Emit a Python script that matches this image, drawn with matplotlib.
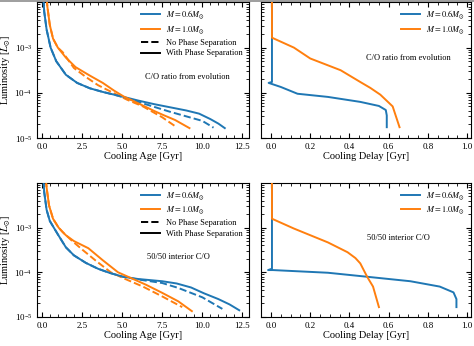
import numpy as np
import matplotlib
matplotlib.use("Agg")
import matplotlib.pyplot as plt
from matplotlib.ticker import AutoMinorLocator, LogLocator, NullFormatter
from matplotlib.lines import Line2D
from matplotlib.patches import Rectangle

plt.rcParams['font.family'] = ['Liberation Serif', 'DejaVu Serif']
plt.rcParams['mathtext.fontset'] = 'stix'

BLUE = '#1f77b4'
ORANGE = '#ff7f0e'

# ---------------- Top row: C/O ratio from evolution ----------------
tl_blue_ps_age = [0.07, 0.15, 0.3, 0.55, 0.9, 1.5, 2.2, 3.0, 3.8, 4.5, 5.1, 6.0, 7.0, 8.0, 9.0, 9.8, 10.5, 11.0, 11.4]
tl_blue_ps_logL = [-1.7, -2.2, -2.6, -3.0, -3.3, -3.6, -3.78, -3.9, -3.98, -4.04, -4.09, -4.17, -4.25, -4.32, -4.39, -4.46, -4.58, -4.68, -4.78]
tl_blue_nops_age = [0.07, 0.15, 0.3, 0.55, 0.9, 1.5, 2.2, 3.0, 3.8, 4.5, 5.1, 6.0, 7.0, 8.0, 9.0, 10.0, 10.7]
tl_blue_nops_logL = [-1.7, -2.2, -2.6, -3.0, -3.3, -3.6, -3.78, -3.9, -3.98, -4.04, -4.1, -4.2, -4.31, -4.42, -4.52, -4.62, -4.77]

tl_orange_ps_age = [0.25, 0.35, 0.5, 0.7, 1.0, 1.5, 2.1, 3.0, 3.8, 4.5, 5.1, 6.0, 7.0, 7.5, 8.3, 9.2]
tl_orange_ps_logL = [-1.7, -2.1, -2.5, -2.8, -3.0, -3.22, -3.43, -3.62, -3.78, -3.95, -4.08, -4.23, -4.4, -4.48, -4.6, -4.78]
tl_orange_nops_age = [0.25, 0.35, 0.5, 0.7, 1.0, 1.3, 2.0, 2.75, 3.5, 4.45, 5.3, 6.3, 7.5, 8.4]
tl_orange_nops_logL = [-1.7, -2.1, -2.5, -2.8, -3.0, -3.1, -3.45, -3.65, -3.83, -4.0, -4.15, -4.3, -4.54, -4.76]

tr_blue_delay = [0.005, 0.005, -0.012, 0.05, 0.135, 0.29, 0.455, 0.55, 0.585, 0.59, 0.59]
tr_blue_logL = [-1.7, -3.76, -3.78, -3.87, -4.02, -4.09, -4.2, -4.29, -4.38, -4.5, -4.76]
tr_orange_delay = [0.005, 0.005, 0.117, 0.2, 0.355, 0.455, 0.506, 0.557, 0.62, 0.655]
tr_orange_logL = [-1.7, -2.78, -3.0, -3.24, -3.5, -3.76, -3.89, -4.04, -4.3, -4.76]

# ---------------- Bottom row: 50/50 interior C/O ----------------
bl_blue_ps_age = [0.07, 0.15, 0.3, 0.5, 0.75, 1.0, 1.5, 2.0, 2.75, 3.5, 4.2, 5.06, 6.0, 7.5, 8.4, 9.3, 10.1, 11.0, 11.7, 12.3]
bl_blue_ps_logL = [-1.7, -2.2, -2.6, -2.85, -3.0, -3.15, -3.44, -3.62, -3.79, -3.92, -4.01, -4.1, -4.15, -4.2, -4.25, -4.34, -4.47, -4.6, -4.72, -4.85]
bl_blue_nops_age = [0.07, 0.15, 0.3, 0.5, 0.75, 1.0, 1.5, 2.0, 2.75, 3.5, 4.2, 5.06, 6.0, 7.5, 8.5, 10.0, 11.25]
bl_blue_nops_logL = [-1.7, -2.2, -2.6, -2.85, -3.0, -3.15, -3.44, -3.62, -3.79, -3.92, -4.01, -4.1, -4.16, -4.24, -4.35, -4.56, -4.82]

bl_orange_ps_age = [0.2, 0.3, 0.45, 0.7, 1.05, 1.5, 2.0, 2.9, 3.8, 4.75, 5.5, 6.5, 7.5, 8.5, 9.35]
bl_orange_ps_logL = [-1.7, -2.1, -2.5, -2.8, -3.0, -3.17, -3.3, -3.46, -3.73, -4.0, -4.12, -4.28, -4.46, -4.65, -4.87]
bl_orange_nops_age = [0.2, 0.3, 0.45, 0.7, 1.05, 1.3, 1.9, 2.55, 3.4, 4.3, 5.2, 6.3, 7.5, 8.75]
bl_orange_nops_logL = [-1.7, -2.1, -2.5, -2.8, -3.0, -3.1, -3.3, -3.5, -3.75, -4.0, -4.15, -4.32, -4.54, -4.78]

br_blue_delay = [0.005, 0.005, -0.015, 0.01, 0.29, 0.49, 0.71, 0.86, 0.93, 0.945, 0.945]
br_blue_logL = [-1.7, -3.92, -3.95, -3.95, -4.01, -4.1, -4.2, -4.32, -4.45, -4.6, -4.78]
br_orange_delay = [0.005, 0.005, 0.117, 0.29, 0.39, 0.43, 0.455, 0.49, 0.52, 0.55]
br_orange_logL = [-1.7, -2.8, -3.02, -3.33, -3.55, -3.68, -3.8, -4.1, -4.32, -4.78]

mass_labels = [r'$M = 0.6M_{\odot}$', r'$M = 1.0M_{\odot}$']
panel_texts = ['C/O ratio from evolution', '50/50 interior C/O']

fig = plt.figure(figsize=(4.74, 3.46), dpi=100)
# thin grey band along the top edge (cropped figure border)
fig.add_artist(Rectangle((0, 0.995), 1, 0.005, transform=fig.transFigure,
                         facecolor='#a0a0a0', edgecolor='none', zorder=0))
ax_tl = fig.add_axes([0.078, 0.601, 0.447, 0.392])
ax_tr = fig.add_axes([0.551, 0.601, 0.443, 0.392])
ax_bl = fig.add_axes([0.078, 0.084, 0.447, 0.387])
ax_br = fig.add_axes([0.551, 0.084, 0.443, 0.387])

lw = 1.4
TICK_FS = 6.5
LABEL_FS = 7.5
LEG_FS = 6
TXT_FS = 6


def L(v):
    return 10 ** np.array(v)


def style(ax, left):
    ax.set_yscale('log')
    ax.set_ylim(1e-5, 1e-2)
    ax.tick_params(which='both', direction='in', top=True, right=True, labelsize=TICK_FS)
    ax.tick_params(which='major', length=3.5, width=0.8)
    ax.tick_params(which='minor', length=2, width=0.6)
    ax.xaxis.set_minor_locator(AutoMinorLocator())
    ax.yaxis.set_major_locator(LogLocator(base=10, numticks=10))
    ax.yaxis.set_minor_locator(LogLocator(base=10, subs=np.arange(2, 10), numticks=10))
    ax.yaxis.set_minor_formatter(NullFormatter())
    ax.set_yticks([1e-5, 1e-4, 1e-3])
    if left:
        ax.set_xlim(-0.3, 12.9)
        ax.set_xticks([0, 2.5, 5, 7.5, 10, 12.5])
        ax.set_xlabel('Cooling Age [Gyr]', fontsize=LABEL_FS, labelpad=1)
        ax.set_ylabel(r'Luminosity [$L_{\odot}$]', fontsize=LABEL_FS, labelpad=1)
    else:
        ax.set_xlim(-0.05, 1.02)
        ax.set_xticks([0, 0.2, 0.4, 0.6, 0.8, 1.0])
        ax.set_xlabel('Cooling Delay [Gyr]', fontsize=LABEL_FS, labelpad=1)
        ax.tick_params(axis='y', labelleft=False)
    for s in ax.spines.values():
        s.set_linewidth(0.8)


def left_panel(ax, b_ps_x, b_ps_y, b_np_x, b_np_y, o_ps_x, o_ps_y, o_np_x, o_np_y, text, tx, ty):
    ax.plot(b_np_x, L(b_np_y), color=BLUE, ls='--', lw=lw, zorder=2)
    ax.plot(o_np_x, L(o_np_y), color=ORANGE, ls='--', lw=lw, zorder=2)
    ax.plot(b_ps_x, L(b_ps_y), color=BLUE, ls='-', lw=lw, zorder=3)
    ax.plot(o_ps_x, L(o_ps_y), color=ORANGE, ls='-', lw=lw, zorder=3)
    style(ax, True)
    handles = [Line2D([], [], color=BLUE, lw=lw),
               Line2D([], [], color=ORANGE, lw=lw),
               Line2D([], [], color='black', ls='--', lw=lw),
               Line2D([], [], color='black', ls='-', lw=lw)]
    labels = mass_labels + ['No Phase Separation', 'With Phase Separation']
    ax.legend(handles, labels, loc='upper right', frameon=False, fontsize=LEG_FS,
              handlelength=2.2, borderaxespad=0.3, labelspacing=0.35)
    ax.text(tx, ty, text, fontsize=TXT_FS, ha='center', va='center')


def right_panel(ax, b_x, b_y, o_x, o_y, text, tx, ty):
    ax.plot(b_x, L(b_y), color=BLUE, lw=lw, zorder=2)
    ax.plot(o_x, L(o_y), color=ORANGE, lw=lw, zorder=3)
    style(ax, False)
    handles = [Line2D([], [], color=BLUE, lw=lw), Line2D([], [], color=ORANGE, lw=lw)]
    ax.legend(handles, mass_labels, loc='upper right', frameon=False, fontsize=LEG_FS,
              handlelength=2.2, borderaxespad=0.3, labelspacing=0.35)
    ax.text(tx, ty, text, fontsize=TXT_FS, ha='center', va='center')


left_panel(ax_tl, tl_blue_ps_age, tl_blue_ps_logL, tl_blue_nops_age, tl_blue_nops_logL,
           tl_orange_ps_age, tl_orange_ps_logL, tl_orange_nops_age, tl_orange_nops_logL,
           panel_texts[0], 9.1, 2.2e-4)
right_panel(ax_tr, tr_blue_delay, tr_blue_logL, tr_orange_delay, tr_orange_logL,
            panel_texts[0], 0.70, 5.8e-4)
left_panel(ax_bl, bl_blue_ps_age, bl_blue_ps_logL, bl_blue_nops_age, bl_blue_nops_logL,
           bl_orange_ps_age, bl_orange_ps_logL, bl_orange_nops_age, bl_orange_nops_logL,
           panel_texts[1], 8.5, 2.2e-4)
right_panel(ax_br, br_blue_delay, br_blue_logL, br_orange_delay, br_orange_logL,
            panel_texts[1], 0.65, 5.8e-4)

fig.savefig('out.png', dpi=100)
